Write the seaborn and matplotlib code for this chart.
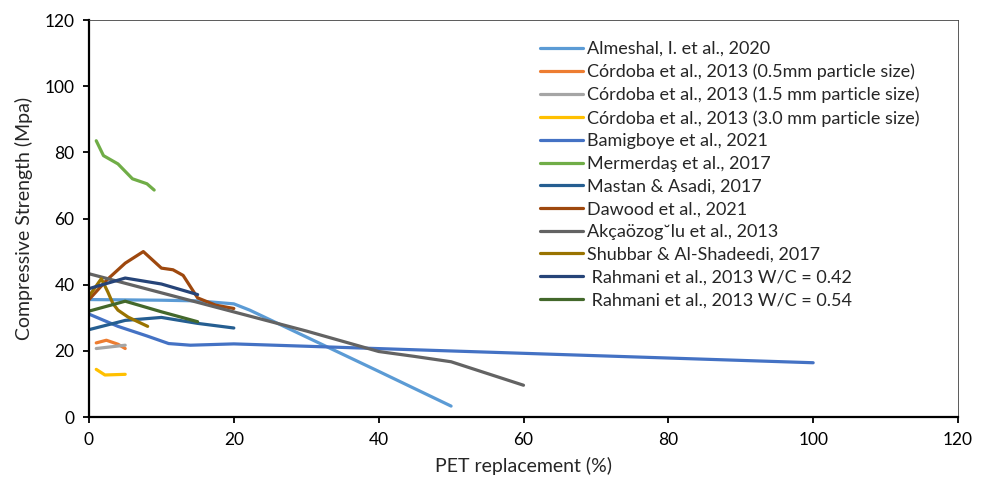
import matplotlib
matplotlib.use("Agg")
import matplotlib.pyplot as plt
import pandas as pd
import seaborn as sns

# values (PET replacement %, compressive strength MPa)
almeshal_x = [0, 10, 15, 20, 22.2, 30, 40, 50]
almeshal_y = [35.5, 35.3, 35.1, 34.2, 32.3, 24.2, 13.8, 3.3]

cordoba05_x = [1, 2.4, 4, 5]
cordoba05_y = [22.4, 23.2, 22.0, 20.7]

cordoba15_x = [1, 3, 5]
cordoba15_y = [20.7, 21.2, 21.7]

cordoba30_x = [1, 2.2, 5]
cordoba30_y = [14.4, 12.7, 12.9]

bamigboye_x = [0, 4, 8, 11, 14, 20, 100]
bamigboye_y = [31.1, 27.4, 24.5, 22.2, 21.7, 22.1, 16.4]

mermerdas_x = [1, 2, 4, 6, 8, 9]
mermerdas_y = [83.5, 79.0, 76.5, 72.0, 70.5, 68.6]

mastan_x = [0, 5, 10, 15, 20]
mastan_y = [26.4, 29.2, 30.1, 28.3, 26.9]

dawood_x = [0, 2.5, 5, 7.5, 10, 11.6, 13, 15, 17.5, 20]
dawood_y = [35.5, 41.5, 46.5, 50.0, 45.0, 44.5, 42.8, 36.0, 33.8, 32.8]

akca_x = [0, 30, 40, 45, 50, 60]
akca_y = [43.3, 26.0, 19.8, 18.3, 16.7, 9.6]

shubbar_x = [0, 1.7, 2.6, 3.3, 4, 5.4, 8.1]
shubbar_y = [36.5, 41.8, 37.8, 34.3, 32.3, 30.2, 27.4]

rahmani42_x = [0, 5, 10, 15]
rahmani42_y = [38.8, 42.0, 40.2, 37.0]

rahmani54_x = [0, 5, 10, 15]
rahmani54_y = [32.0, 35.0, 31.8, 28.8]

labels = [
    "Almeshal, I. et al., 2020",
    "Córdoba et al., 2013 (0.5mm particle size)",
    "Córdoba et al., 2013 (1.5 mm particle size)",
    "Córdoba et al., 2013 (3.0 mm particle size)",
    "Bamigboye et al., 2021",
    "Mermerdaş et al., 2017",
    "Mastan & Asadi, 2017",
    "Dawood et al., 2021",
    "Akçaözog˘lu et al., 2013",
    "Shubbar & Al-Shadeedi, 2017",
    " Rahmani et al., 2013 W/C = 0.42",
    " Rahmani et al., 2013 W/C = 0.54",
]
colors = [
    "#5B9BD5", "#ED7D31", "#A5A5A5", "#FFC000", "#4472C4", "#70AD47",
    "#255E91", "#9E480E", "#636363", "#997300", "#264478", "#43682B",
]

series = [
    (almeshal_x, almeshal_y), (cordoba05_x, cordoba05_y),
    (cordoba15_x, cordoba15_y), (cordoba30_x, cordoba30_y),
    (bamigboye_x, bamigboye_y), (mermerdas_x, mermerdas_y),
    (mastan_x, mastan_y), (dawood_x, dawood_y), (akca_x, akca_y),
    (shubbar_x, shubbar_y), (rahmani42_x, rahmani42_y),
    (rahmani54_x, rahmani54_y),
]

frames = []
for name, (xs, ys) in zip(labels, series):
    frames.append(pd.DataFrame({"pet": xs, "strength": ys, "study": name}))
df = pd.concat(frames, ignore_index=True)

sns.set_style("white")
plt.rcParams["font.family"] = ["Lato", "DejaVu Sans"]

fig = plt.figure(figsize=(9.84, 4.80), dpi=100)
ax = fig.add_axes([89 / 984, 1 - 417 / 480, (958 - 89) / 984, (417 - 20) / 480])

sns.lineplot(
    data=df, x="pet", y="strength", hue="study", hue_order=labels,
    palette=dict(zip(labels, colors)), linewidth=2.3, ax=ax,
    estimator=None, sort=False,
)

ax.set_xlim(0, 120)
ax.set_ylim(0, 120)
ax.set_xticks(range(0, 121, 20))
ax.set_yticks(range(0, 121, 20))
ax.set_xlabel("PET replacement (%)", fontsize=14, labelpad=7)
ax.set_ylabel("Compressive Strength (Mpa)", fontsize=14, labelpad=8)
ax.tick_params(axis="both", labelsize=12.5, direction="out", length=4.5,
               width=1.3, colors="black", pad=6)
ax.tick_params(left=True, bottom=True)

for side in ["left", "bottom"]:
    ax.spines[side].set_color("black")
    ax.spines[side].set_linewidth(1.6)
# thin plot-area border on top and right
for side in ["top", "right"]:
    ax.spines[side].set_color("#404040")
    ax.spines[side].set_linewidth(0.6)

handles, _ = ax.get_legend_handles_labels()
leg = ax.legend(
    handles, labels, loc="upper left", bbox_to_anchor=(540 / 984, 1 - 41 / 480),
    bbox_transform=fig.transFigure, frameon=False, fontsize=13,
    handlelength=2.36, handletextpad=0.22, borderpad=0, borderaxespad=0,
    labelspacing=0.37,
)
for line in leg.get_lines():
    line.set_linewidth(2.3)

fig.savefig("out.png", dpi=100)
